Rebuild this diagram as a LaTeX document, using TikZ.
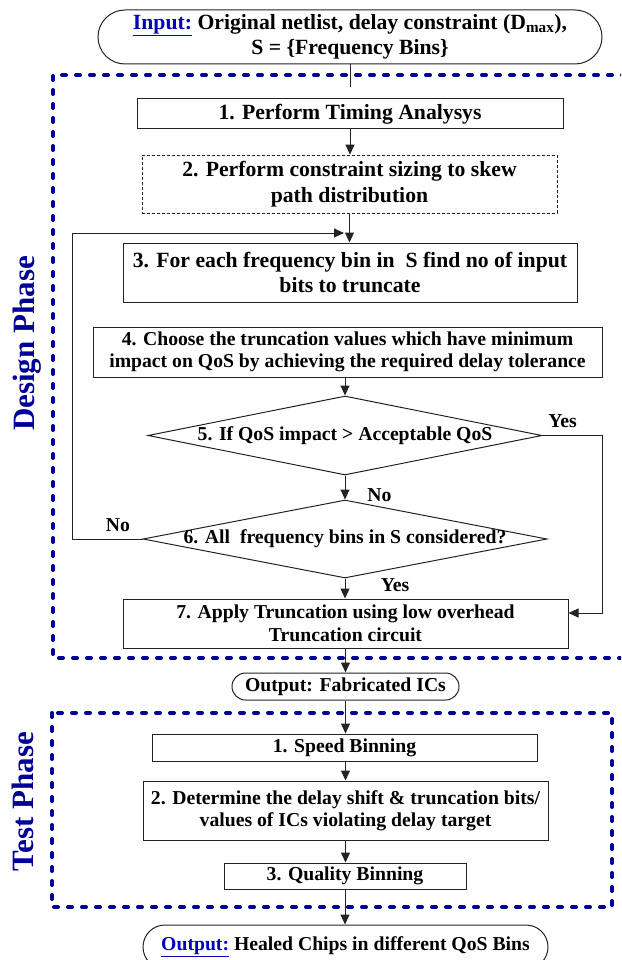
\documentclass[tikz,border=0pt]{standalone}
\usepackage{fontspec}
\setmainfont{Liberation Serif}
\usetikzlibrary{arrows.meta,shapes.geometric,shapes.misc}
\definecolor{phaseblue}{RGB}{0,0,150}
\definecolor{linkblue}{RGB}{0,0,190}
\definecolor{lineclr}{RGB}{35,35,35}
\begin{document}
\begin{tikzpicture}[x=1pt,y=-1pt,
  bigtxt/.style={font=\fontsize{21.7}{25.5}\selectfont\bfseries},
  smtxt/.style={font=\fontsize{19.7}{22.5}\selectfont\bfseries},
  box/.style={draw=lineclr, line width=1pt, inner sep=0pt, align=center},
  dbox/.style={box, dash pattern=on 3pt off 2pt, line width=0.8pt},
  term/.style={draw=lineclr, line width=1pt, rounded rectangle, inner sep=0pt, align=center},
  dec/.style={draw=lineclr, line width=1pt, diamond, inner sep=0pt},
  conn/.style={draw=lineclr, line width=1pt, -{Triangle[length=10pt,width=9pt]}},
  plainline/.style={draw=lineclr, line width=1pt},
  phase/.style={draw=phaseblue, line width=4pt, line cap=round, dash pattern=on 4pt off 10pt},
  phtxt/.style={text=phaseblue, font=\fontsize{31}{31}\selectfont\bfseries, rotate=90, anchor=base, inner sep=0pt},
  lbl/.style={smtxt, inner sep=0pt}
]
\useasboundingbox (0,0) rectangle (621,960);
\clip (0,0) rectangle (621,960);

% phase frames
\draw[phase] (640,75) -- (53,75) -- (53,658) -- (640,658);
\draw[phase] (52,713) rectangle (612,907);
\node[phtxt] (dp) at (34,343.5) {Design Phase};
\node[phtxt] (tp) at (33.5,801.5) {Test Phase};

% nodes
\node[term, bigtxt, minimum width=504pt, minimum height=54pt] (in) at (350,37)
  {\textcolor{linkblue}{\underline{Input:}} Original netlist, delay constraint (D\textsubscript{max}),\\ S = \{Frequency Bins\}};
\node[box, bigtxt, minimum width=426pt, minimum height=30pt] (b1) at (350,114) {1. Perform Timing Analysys};
\node[dbox, bigtxt, minimum width=415pt, minimum height=58pt] (b2) at (349.5,184) {2. Perform constraint sizing to skew\\ path distribution};
\node[box, bigtxt, minimum width=454pt, minimum height=59pt] (b3) at (350,272.5) {3. For each frequency bin in\ \ S find no of input\\ bits to truncate};
\node[box, smtxt, minimum width=509pt, minimum height=50pt] (b4) at (347.5,352) {4. Choose the truncation values which have minimum\\ impact on QoS by achieving the required delay tolerance};
\node[dec, smtxt, minimum width=394pt, minimum height=79pt] (d5) at (345,435.5) {\makebox[0pt]{5. If QoS impact > Acceptable QoS}};
\node[dec, smtxt, minimum width=404pt, minimum height=78pt] (d6) at (345,539) {\makebox[0pt]{6. All\ \ frequency bins in S considered?}};
\node[box, smtxt, minimum width=445pt, minimum height=49pt] (b7) at (345.5,623.5) {7. Apply Truncation using low overhead\\ Truncation circuit};
\node[term, smtxt, minimum width=227pt, minimum height=27pt] (fab) at (345.5,686.5) {Output: Fabricated ICs};
\node[box, smtxt, minimum width=385pt, minimum height=27pt] (t1) at (344.5,747.5) {1. Speed Binning};
\node[box, smtxt, minimum width=405pt, minimum height=59pt] (t2) at (345.5,810.5) {2. Determine the delay shift \& truncation bits/\\ values of ICs violating delay target};
\node[box, smtxt, minimum width=242pt, minimum height=26pt] (t3) at (345,876) {3. Quality Binning};
\node[term, smtxt, minimum width=405pt, minimum height=44pt] (out) at (345.5,947) {\textcolor{linkblue}{\underline{Output:}} Healed Chips in different QoS Bins};

% labels
\node[lbl] (yes1) at (562.5,421.5) {Yes};
\node[lbl] (no1) at (379.5,495) {No};
\node[lbl] (no2) at (118,525) {No};
\node[lbl] (yes2) at (395,585) {Yes};

% connectors
\draw[plainline, shorten >=11pt] (in.south) -- (b1.north);
\draw[conn] (b1.south) -- (b1.south |- b2.north);
\draw[conn] (b2.south) -- (b2.south |- b3.north);
\coordinate (loopend) at (344,233);
\draw[conn] (d6.west) -- ++(-70,0) |- (loopend);
\draw[conn] (d5.north |- b4.south) -- (d5.north);
\draw[conn] (d5.south) -- (d6.north);
\draw[conn] (d6.south) -- (d6.south |- b7.north);
\draw[conn] (d5.east) -- ++(60,0) |- ([yshift=10.5pt]b7.east);
\draw[conn] (b7.south) -- (b7.south |- fab.north);
\draw[conn] (fab.south) -- (fab.south |- t1.north);
\draw[conn] (t1.south -| t2.north) -- (t2.north);
\draw[conn] (t2.south) -- (t2.south |- t3.north);
\draw[conn] (t3.south) -- (t3.south |- out.north);
\end{tikzpicture}
\end{document}
